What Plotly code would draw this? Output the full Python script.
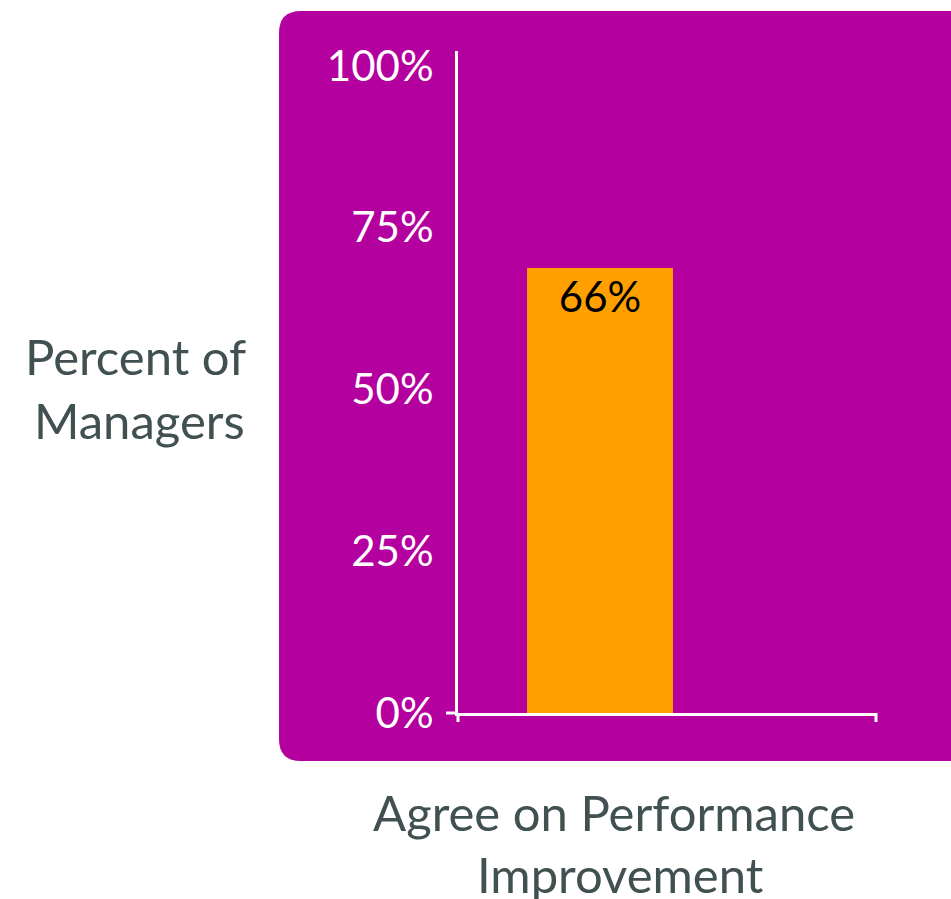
import plotly.graph_objects as go

categories = ["Agree on Performance Improvement"]
values = [68.8]
bar_labels = ["66%"]
tick_vals = [0, 25, 50, 75, 100]
tick_text = ["0%", "25%", "50%", "75%", "100%"]
y_title_lines = ["Percent of", "Managers"]
x_title_lines = ["Agree on Performance", "Improvement"]

MAGENTA = "#B4009E"
ORANGE = "#FFA000"
TEXT = "#415050"
FONT = "Lato"

W, H = 951, 899
L, R, T, B = 458, 74, 51, 186
PW, PH = W - L - R, H - T - B

def px(x):
    return (x - L) / PW

def py(y):
    return (H - B - y) / PH

fig = go.Figure()
fig.add_trace(go.Bar(
    x=categories, y=values, width=0.5,
    marker=dict(color=ORANGE, line=dict(width=0)),
    text=bar_labels, textposition="inside", insidetextanchor="end",
    textfont=dict(color="black", size=42, family=FONT),
    hoverinfo="skip",
))

# rounded magenta panel
x0, x1, y0, y1 = px(279), px(990), py(761), py(11)
rx, ry = 22 / PW, 22 / PH
path = (f"M {x0+rx},{y1} L {x1},{y1} L {x1},{y0} L {x0+rx},{y0} "
        f"Q {x0},{y0} {x0},{y0+ry} L {x0},{y1-ry} Q {x0},{y1} {x0+rx},{y1} Z")
shapes = [dict(type="path", path=path, xref="paper", yref="paper",
               fillcolor=MAGENTA, line=dict(width=0), layer="below")]
for (a, b, c, d) in [(446, 713, 458, 713), (458, 713, 458, 722), (876, 713, 876, 722)]:
    shapes.append(dict(type="line", xref="paper", yref="paper",
                       x0=px(a), y0=py(b), x1=px(c), y1=py(d),
                       line=dict(color="white", width=3), layer="above"))

annots = []
for txt, (cx, cy) in zip(y_title_lines, [(135, 356), (139, 420)]):
    annots.append(dict(text=txt, x=px(cx), y=py(cy), xref="paper", yref="paper",
                       showarrow=False, xanchor="center", yanchor="middle",
                       font=dict(color=TEXT, size=49, family=FONT)))
for txt, (cx, cy) in zip(x_title_lines, [(614, 812), (620, 874)]):
    annots.append(dict(text=txt, x=px(cx), y=py(cy), xref="paper", yref="paper",
                       showarrow=False, xanchor="center", yanchor="middle",
                       font=dict(color=TEXT, size=49, family=FONT)))

fig.update_layout(
    width=W, height=H,
    margin=dict(l=L, r=R, t=T, b=B, pad=0),
    paper_bgcolor="white", plot_bgcolor="rgba(0,0,0,0)",
    showlegend=False, shapes=shapes, bargap=0,
    font=dict(family=FONT),
    xaxis=dict(range=[-0.487, 0.952], showticklabels=False, showgrid=False,
               zeroline=False, showline=True, linecolor="white", linewidth=3,
               ticks="", fixedrange=True),
    yaxis=dict(range=[0, PH / 6.47], tickvals=tick_vals, ticktext=tick_text,
               showgrid=False, zeroline=False, showline=True, linecolor="white",
               linewidth=3, ticks="", ticklabelstandoff=13, fixedrange=True,
               tickfont=dict(color="white", size=42, family=FONT)),
    annotations=annots,
)
fig.write_html("out.html", config={"displayModeBar": False},
               post_script="document.body.style.margin='0';document.body.style.overflow='hidden';")
